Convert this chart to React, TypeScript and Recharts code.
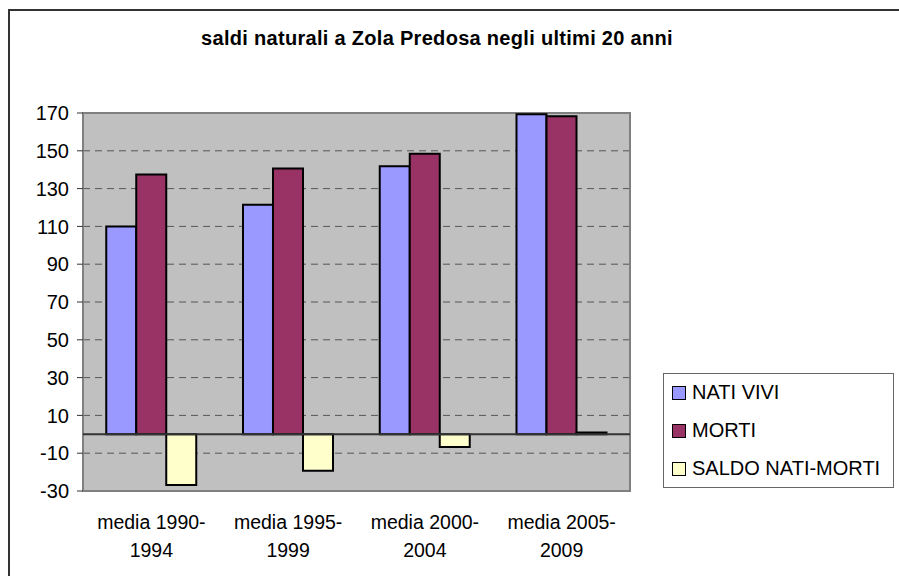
import {
  BarChart,
  Bar,
  XAxis,
  YAxis,
  CartesianGrid,
  ReferenceLine,
  ReferenceArea,
} from "recharts"

const categories = ["media 1990-1994", "media 1995-1999", "media 2000-2004", "media 2005-2009"]
const natiVivi = [110, 121.4, 141.8, 169.4]
const morti = [137.4, 140.6, 148.4, 168.3]
const saldo = [-26.8, -19.3, -6.7, 1]
const yTicks = [-30, -10, 10, 30, 50, 70, 90, 110, 130, 150, 170]

const series = [
  { key: "nati", name: "NATI VIVI", color: "#9999FF" },
  { key: "morti", name: "MORTI", color: "#993366" },
  { key: "saldo", name: "SALDO NATI-MORTI", color: "#FFFFCC" },
]

const font = "'Liberation Sans', Arial, sans-serif"

function CategoryTick(props: any) {
  const { x, y, payload } = props
  const label: string = payload.value
  const cut = label.indexOf("-") + 1
  return (
    <text x={x} y={y} textAnchor="middle" fontSize={19.5} fill="#000" fontFamily={font}>
      <tspan x={x} dy={30}>{label.slice(0, cut)}</tspan>
      <tspan x={x} dy={28}>{label.slice(cut)}</tspan>
    </text>
  )
}

export default function App() {
  const data = categories.map((c, i) => ({
    cat: c,
    nati: natiVivi[i],
    morti: morti[i],
    saldo: saldo[i],
  }))

  return (
    <div style={{ position: "absolute", left: 0, top: 0, width: 899, height: 576, overflow: "hidden", background: "#fff", fontFamily: font }}>
      <div style={{ position: "absolute", left: 8, top: 9, width: 1000, height: 700, border: "2px solid #333" }} />
      <div style={{ position: "absolute", left: 0, top: 27, width: 874, textAlign: "center", fontWeight: "bold", fontSize: 20, letterSpacing: 0.3 }}>
        saldi naturali a Zola Predosa negli ultimi 20 anni
      </div>
      <div style={{ position: "absolute", left: 0, top: 0 }}>
        <BarChart
          width={899}
          height={576}
          data={data}
          margin={{ top: 113, right: 269, bottom: 25, left: 23 }}
          barCategoryGap="17%"
          barGap={0}
        >
          <CartesianGrid vertical={false} fill="#C0C0C0" stroke="#555" strokeDasharray="7 5" />
          <XAxis dataKey="cat" height={60} axisLine={false} tickLine={false} tick={<CategoryTick />} interval={0} />
          <YAxis
            width={60}
            domain={[-30, 170]}
            ticks={yTicks}
            interval={0}
            axisLine={false}
            tickLine={{ stroke: "#333" }}
            tickSize={6}
            tickMargin={8}
            tick={{ fill: "#000", fontSize: 20, fontFamily: font }}
          />
          <ReferenceArea y1={-30} y2={170} fill="none" stroke="#808080" strokeWidth={2} ifOverflow="visible" />
          {series.map((s) => (
            <Bar
              key={s.key}
              dataKey={s.key}
              name={s.name}
              fill={s.color}
              stroke="#000"
              strokeWidth={2}
              isAnimationActive={false}
            />
          ))}
          <ReferenceLine y={0} stroke="#333" strokeWidth={2} />
        </BarChart>
      </div>
      <div style={{ position: "absolute", left: 663, top: 373, width: 229, height: 113, border: "1px solid #666", background: "#fff" }}>
        {series.map((s, i) => (
          <div key={s.key} style={{ position: "absolute", left: 8, top: 7 + i * 38, display: "flex", alignItems: "center", fontSize: 20, whiteSpace: "nowrap" }}>
            <span style={{ display: "inline-block", width: 12, height: 12, border: "1.5px solid #000", background: s.color, marginRight: 6 }} />
            {s.name}
          </div>
        ))}
      </div>
    </div>
  )
}
